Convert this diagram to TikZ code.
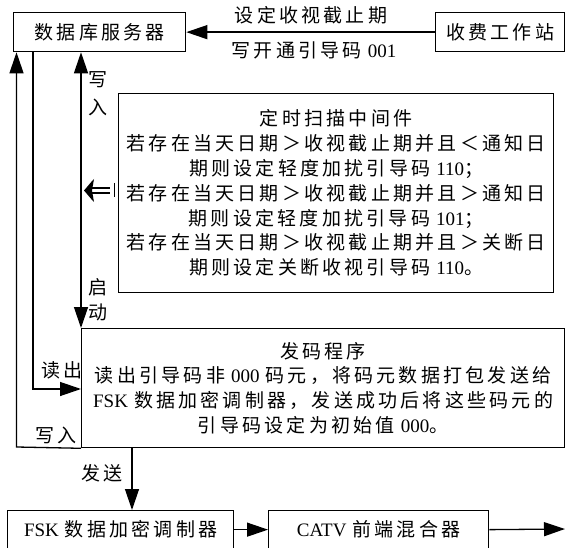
\documentclass[tikz,border=0pt]{standalone}
\usepackage{fontspec}
\setmainfont{Liberation Serif}
\newfontfamily\cjk[LetterSpace=17]{Noto Sans CJK SC}
\usetikzlibrary{arrows.meta}
\newcommand{\zh}[1]{{\cjk #1}}
\newcommand{\gap}{\hspace{6pt}}
\tikzset{
  tipA/.tip={Triangle[length=21pt,width=14pt]},
}
\begin{document}
\begin{tikzpicture}[x=1pt,y=-1pt,
  font=\fontsize{19}{24.8}\selectfont,
  box/.style={draw, line width=1.3pt, inner sep=0pt, anchor=north west},
  arr/.style={line width=1.3pt, -tipA},
  darr/.style={line width=1.3pt, tipA-tipA},
  lbl/.style={inner sep=0pt}]
\useasboundingbox (0,0) rectangle (565,548);
% boxes
\node[box, minimum width=172pt, minimum height=39pt] (db) at (13,12) {\zh{数据库服务器}};
\node[box, minimum width=129pt, minimum height=39pt] (sta) at (435,12) {\zh{收费工作站}};
\node[box, minimum width=435pt, minimum height=199pt, align=center] (scan) at (118,93) {%
\zh{定时扫描中间件}\\
\zh{若存在当天日期＞收视截止期并且＜通知日}\\
\zh{期则设定轻度加扰引导码}\gap 110\zh{；}\\
\zh{若存在当天日期＞收视截止期并且＞通知日}\\
\zh{期则设定轻度加扰引导码}\gap 101\zh{；}\\
\zh{若存在当天日期＞收视截止期并且＞关断日}\\
\zh{期则设定关断收视引导码}\gap 110\zh{。}};
\node[box, minimum width=483pt, minimum height=119pt, align=center] (send) at (81,328) {%
\zh{发码程序}\\
\zh{读出引导码非}\gap 000\gap\zh{码元，将码元数据打包发送给}\\
FSK\gap\zh{数据加密调制器，发送成功后将这些码元的}\\
\zh{引导码设定为初始值}\gap 000\zh{。}};
\node[box, minimum width=226pt, minimum height=38pt] (fsk) at (7,510) {FSK\gap\zh{数据加密调制器}};
\node[box, minimum width=220pt, minimum height=38pt] (catv) at (268,510) {CATV\gap\zh{前端混合器}};
% top arrow
\draw[arr] (sta.west) -- (db.east);
\node[lbl] (l1) at (311,15) {\zh{设定收视截止期}};
\node[lbl] (l2) at (314,50) {\zh{写开通引导码}\gap 001};
% left loop: write back
\coordinate (c1) at (16.5,447);
\draw[arr] (send.south west) -- (c1) -- (c1 |- db.south);
\node[lbl] (l3) at (56,435) {\zh{写入}};
% read
\coordinate (c2) at (33,389);
\draw[arr] (c2 |- db.south) -- (c2) -- (c2 -| send.west);
\node[lbl] (l4) at (62,370) {\zh{读出}};
% write / start
\draw[darr] (send.north west |- db.south) -- (send.north west);
\node[lbl] (l5) at (98,80) {\zh{写}};
\node[lbl] (l6) at (98,107) {\zh{入}};
\node[lbl] (l7) at (98,287) {\zh{启}};
\node[lbl] (l8) at (98,312) {\zh{动}};
% implies arrow
\coordinate (ia) at (84,190.5);
\fill (ia) .. controls (88,186) and (91,182) .. (94,179) -- (92,190.5) -- (94,202) .. controls (91,199) and (88,195) .. (ia);
\draw[line width=1.6pt] (91,188) -- (110,188) (91,193) -- (110,193);
\draw[line width=0.6pt] (114,183) -- (114,197);
% send
\coordinate (c3) at (132,447);
\draw[arr] (c3) -- (c3 |- fsk.north);
\node[lbl] (l9) at (102,473) {\zh{发送}};
\draw[arr] (fsk.east) -- (catv.west);
\coordinate (c4) at (565,529);
\draw[arr] (catv.east) -- (c4);
\end{tikzpicture}
\end{document}
